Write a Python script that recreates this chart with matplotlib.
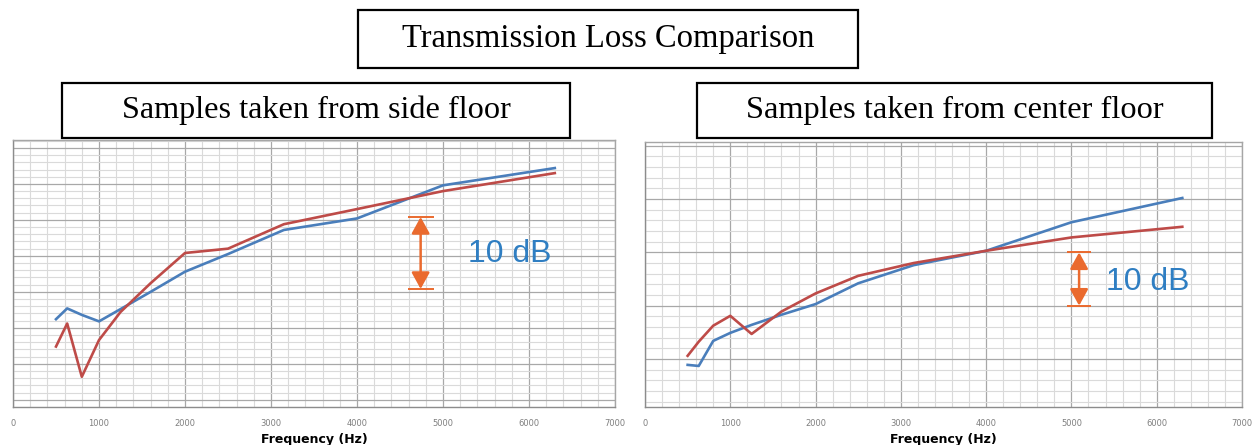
import matplotlib as mpl
mpl.use("Agg")
import matplotlib.pyplot as plt
from matplotlib.patches import Rectangle

import numpy as np


# 1/3 octave band centre frequencies (Hz)
freqs = [500, 630, 800, 1000, 1250, 1600, 2000, 2500, 3150, 4000, 5000, 6300]

# side floor samples (dB)
side_blue = [36.2, 37.7, 36.8, 35.9, 37.6, 40.0, 42.8, 45.25, 48.6, 50.2, 54.8, 57.2]
side_red = [32.4, 35.6, 28.2, 33.3, 37.2, 41.2, 45.4, 46.0, 49.4, 51.5, 54.0, 56.5]

# center floor samples
center_blue = [18.9, 18.7, 23.4, 24.9, 26.4, 28.3, 30.3, 34.2, 37.6, 40.3, 45.65, 50.2]
center_red = [20.6, 23.25, 26.25, 28.1, 24.7, 28.9, 32.3, 35.6, 38.0, 40.3, 42.8, 44.8]

title = "Transmission Loss Comparison"
subtitles = ["Samples taken from side floor", "Samples taken from center floor"]
xlabel = "Frequency (Hz)"
xticks = [0, 1000, 2000, 3000, 4000, 5000, 6000, 7000]

BLUE = "#4a7ebb"
RED = "#be4b48"
ORANGE = "#ea6a2e"
TEXTBLUE = "#2f7ec2"

fig = plt.figure(figsize=(12.53, 4.45), dpi=100)


def panel(rect, blue, red, ylim, ymaj, ymin, arrow, label_pos):
    ax = fig.add_axes(rect)
    ax.set_xlim(0, 7000)
    ax.set_ylim(*ylim)
    ax.set_xticks(xticks)
    ax.set_xticks(np.arange(0, 7001, 200), minor=True)
    ax.set_yticks(np.arange(ymaj[0], ylim[1], ymaj[1]))
    ax.set_yticks(np.arange(ymin[0], ylim[1], ymin[1]), minor=True)
    ax.set_yticklabels([])
    ax.set_xticklabels([str(t) for t in xticks], fontsize=6, color="#7f7f7f")
    ax.tick_params(which="both", length=0, pad=9)
    ax.grid(which="minor", color="#dadada", lw=0.8)
    ax.grid(which="major", color="#a8a8a8", lw=0.9)
    ax.set_axisbelow(True)
    for s in ax.spines.values():
        s.set_color("#a6a6a6")
        s.set_linewidth(1.0)
    ax.spines["left"].set_color("#8c8c8c")
    ax.spines["bottom"].set_color("#8c8c8c")

    ax.plot(freqs, blue, color=BLUE, lw=1.9)
    ax.plot(freqs, red, color=RED, lw=1.9)

    # 10 dB scale marker
    ax_x, lo, hi, half = arrow
    ax.annotate("", xy=(ax_x, hi), xytext=(ax_x, lo),
                arrowprops=dict(arrowstyle="<|-|>,head_length=1.0,head_width=0.55",
                                color=ORANGE, lw=1.8, shrinkA=0, shrinkB=0))
    ax.hlines([lo, hi], ax_x - half, ax_x + half, color=ORANGE, lw=1.4)
    ax.text(label_pos[0], label_pos[1], "10 dB", color=TEXTBLUE, fontsize=23,
            family="Liberation Sans", va="center", ha="left")

    ax.set_xlabel(xlabel, fontsize=9, fontweight="bold", labelpad=3)
    return ax


panel([13 / 1253, 38 / 445, 602 / 1253, 267 / 445], side_blue, side_red,
      (24, 61.1), (25, 5), (24, 1), (4740, 40.4, 50.4, 150), (5290, 45.2))
panel([645 / 1253, 38 / 445, 597 / 1253, 265 / 445], center_blue, center_red,
      (11, 60.7), (20, 10), (12, 2), (5090, 30.0, 40.0, 140), (5400, 34.5))


def box(x0, y0, x1, y1, text, size):
    # coordinates in pixels from the top left corner
    W, H = 1253, 445
    r = Rectangle((x0 / W, 1 - y1 / H), (x1 - x0) / W, (y1 - y0) / H,
                  transform=fig.transFigure, facecolor="white",
                  edgecolor="black", lw=1.6, zorder=10)
    fig.patches.append(r)
    fig.text((x0 + x1) / 2 / W, 1 - (y0 + y1) / 2 / H, text, fontsize=size,
             family="Liberation Serif", ha="center", va="center", zorder=11)


box(358, 10, 858, 68, title, 23.5)
box(62, 83, 570, 138, subtitles[0], 23.2)
box(697, 83, 1212, 138, subtitles[1], 23.3)

fig.savefig("out.png", dpi=100)
